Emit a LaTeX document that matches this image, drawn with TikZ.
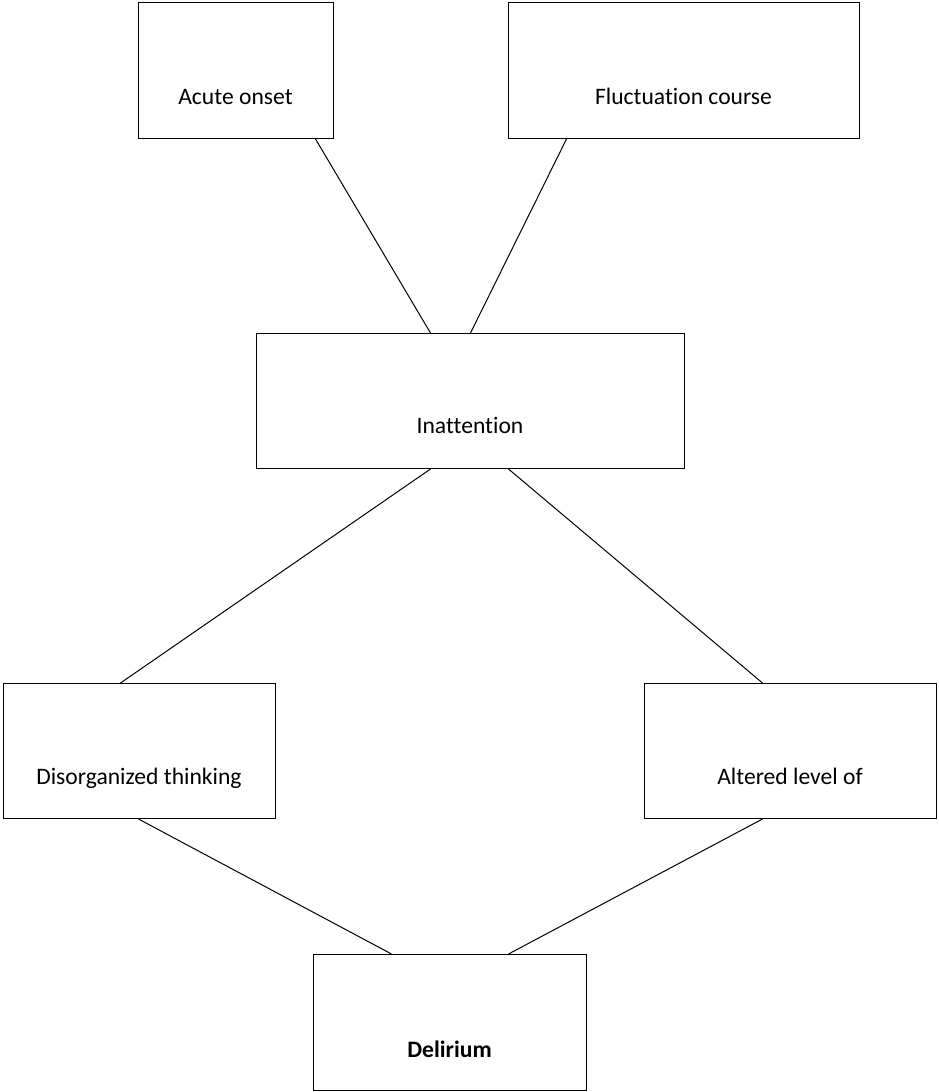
\documentclass[tikz,border=0pt]{standalone}
\usepackage{fontspec}
\setmainfont{Carlito}[Ligatures=NoCommon]
\begin{document}
\begin{tikzpicture}[x=1pt,y=-1pt,
  box/.style={draw=black,line width=1pt,inner sep=0pt,anchor=north west,fill=white},
  lbl/.style={anchor=base,inner sep=0pt,font=\fontsize{23.6}{27}\selectfont},
  conn/.style={draw=black,line width=1pt}]
\useasboundingbox (0,0) rectangle (938,1092);
\node[box,minimum width=195pt,minimum height=136pt] (acute) at (138,2) {};
\node[box,minimum width=351pt,minimum height=136pt] (fluct) at (508,2) {};
\node[box,minimum width=428pt,minimum height=135pt] (inatt) at (256,333) {};
\node[box,minimum width=272pt,minimum height=135pt] (disorg) at (3,683) {};
\node[box,minimum width=292pt,minimum height=135pt] (alter) at (644,683) {};
\node[box,minimum width=273pt,minimum height=136pt] (delir) at (313,954) {};
\node[lbl] (tacute) at (235.5,104) {Acute onset};
\node[lbl] (tfluct) at (683.5,104) {Fluctuation course};
\node[lbl] (tinatt) at (470,433) {Inattention};
\node[lbl] (tdisorg) at (139,784) {Disorganized thinking};
\node[lbl] (talter) at (790,784) {Altered level of};
\node[lbl] (tdelir) at (449.5,1057) {\textbf{Delirium}};
\draw[conn] ([xshift=79.5pt]acute.south) -- ([xshift=-40pt]inatt.north);
\draw[conn] ([xshift=-117.5pt]fluct.south) -- ([xshift=0pt]inatt.north);
\draw[conn] ([xshift=-40pt]inatt.south) -- ([xshift=-19pt]disorg.north);
\draw[conn] ([xshift=38pt]inatt.south) -- ([xshift=-28pt]alter.north);
\draw[conn] ([xshift=-1pt]disorg.south) -- ([xshift=-58.5pt]delir.north);
\draw[conn] ([xshift=-28pt]alter.south) -- ([xshift=58.5pt]delir.north);
\end{tikzpicture}
\end{document}
